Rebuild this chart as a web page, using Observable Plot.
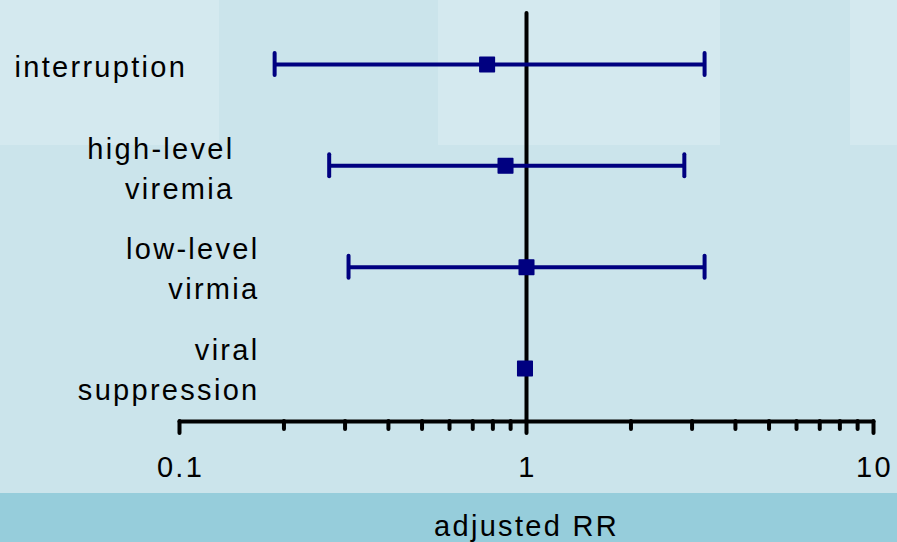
<!DOCTYPE html>
<html><head><meta charset="utf-8">
<script src="https://cdn.jsdelivr.net/npm/d3@7"></script>
<script src="https://cdn.jsdelivr.net/npm/@observablehq/plot@0.6"></script>
<style>
body{margin:0;}
#wrap{width:897px;height:542px;position:relative;overflow:hidden;
background:
 linear-gradient(#d4e9ef,#d4e9ef) 0 0 / 219px 145px no-repeat,
 linear-gradient(#d4e9ef,#d4e9ef) 438px 0 / 282px 145px no-repeat,
 linear-gradient(#d4e9ef,#d4e9ef) 850px 0 / 47px 145px no-repeat,
 linear-gradient(#96cddb,#96cddb) 0 493px / 897px 49px no-repeat,
 #cbe4eb;}
svg{display:block;}
svg text{letter-spacing:2.3px;}
</style></head><body><div id="wrap"></div>
<script>
const categories = ["interruption", "high-level\nviremia", "low-level\nvirmia", "viral\nsuppression"];
const rr = [0.77, 0.87, 1.0, 0.99];
const lower = [0.188, 0.27, 0.307, null];
const upper = [3.26, 2.85, 3.26, null];
const majorTicks = [0.1, 1, 10];
const majorTickLabels = ["0.1", "1", "10"];
const minorTicks = [0.2, 0.3, 0.4, 0.5, 0.6, 0.7, 0.8, 0.9, 2, 3, 4, 5, 6, 7, 8, 9];
const refLine = [1];
const axisLabel = "adjusted RR";

const rows = categories.map((c, i) => ({cat: c, rr: rr[i], lo: lower[i], hi: upper[i]}));
const ci = rows.filter(d => d.lo != null);
const tickRows = majorTicks.map((v, i) => ({v, label: majorTickLabels[i]}));
const navy = "#000080";
const font = "Liberation Sans";

const chart = Plot.plot({
  width: 897, height: 542,
  marginLeft: 179, marginRight: 24, marginTop: 13, marginBottom: 121,
  style: {background: "transparent", fontFamily: font, color: "black"},
  x: {type: "log", domain: [0.1, 10], axis: null, label: null},
  y: {type: "band", domain: categories, range: [53, 379], paddingInner: 0.783, paddingOuter: 0, align: 0.5, axis: null, round: false, label: null},
  marks: [
    Plot.ruleX(refLine, {stroke: "black", strokeWidth: 4, strokeLinecap: "round"}),
    Plot.frame({anchor: "bottom", stroke: "black", strokeWidth: 4, strokeLinecap: "round"}),
    Plot.axisX(majorTicks, {tickSize: 12, strokeWidth: 4, strokeLinecap: "round", tickFormat: () => "", label: null}),
    Plot.axisX(minorTicks, {tickSize: 8, strokeWidth: 4, strokeLinecap: "round", tickFormat: () => "", label: null}),
    Plot.text(tickRows, {x: "v", text: "label", frameAnchor: "bottom", dy: 46, dx: 1, fontSize: 29, lineAnchor: "middle", fill: "black"}),
    Plot.text([axisLabel], {frameAnchor: "bottom", dy: 105, fontSize: 29, lineAnchor: "middle", fill: "black"}),
    Plot.text(rows.filter(d => d.cat === categories[0]), {y: "cat", text: "cat", frameAnchor: "left", textAnchor: "start", dx: -165, dy: 3, fontSize: 29, lineAnchor: "middle", fill: "black"}),
    Plot.text(rows.filter(d => d.cat === categories[1]), {y: "cat", text: "cat", frameAnchor: "left", textAnchor: "end", dx: 55, dy: 0, fontSize: 29, lineHeight: 1.38, lineAnchor: "middle", fill: "black"}),
    Plot.text(rows.filter(d => d.cat === categories[2] || d.cat === categories[3]), {y: "cat", text: "cat", frameAnchor: "left", textAnchor: "end", dx: 80, dy: -1, fontSize: 29, lineHeight: 1.38, lineAnchor: "middle", fill: "black"}),
    Plot.ruleY(ci, {y: "cat", x1: "lo", x2: "hi", stroke: navy, strokeWidth: 4}),
    Plot.tickX(ci, {y: "cat", x: "lo", stroke: navy, strokeWidth: 4, strokeLinecap: "round"}),
    Plot.tickX(ci, {y: "cat", x: "hi", stroke: navy, strokeWidth: 4, strokeLinecap: "round"}),
    Plot.dot(rows, {x: "rr", y: "cat", symbol: "square", r: 8.2, fill: navy, stroke: navy, strokeWidth: 1.5, strokeLinejoin: "round"})
  ]
});
document.getElementById("wrap").appendChild(chart);
</script>
</body></html>
